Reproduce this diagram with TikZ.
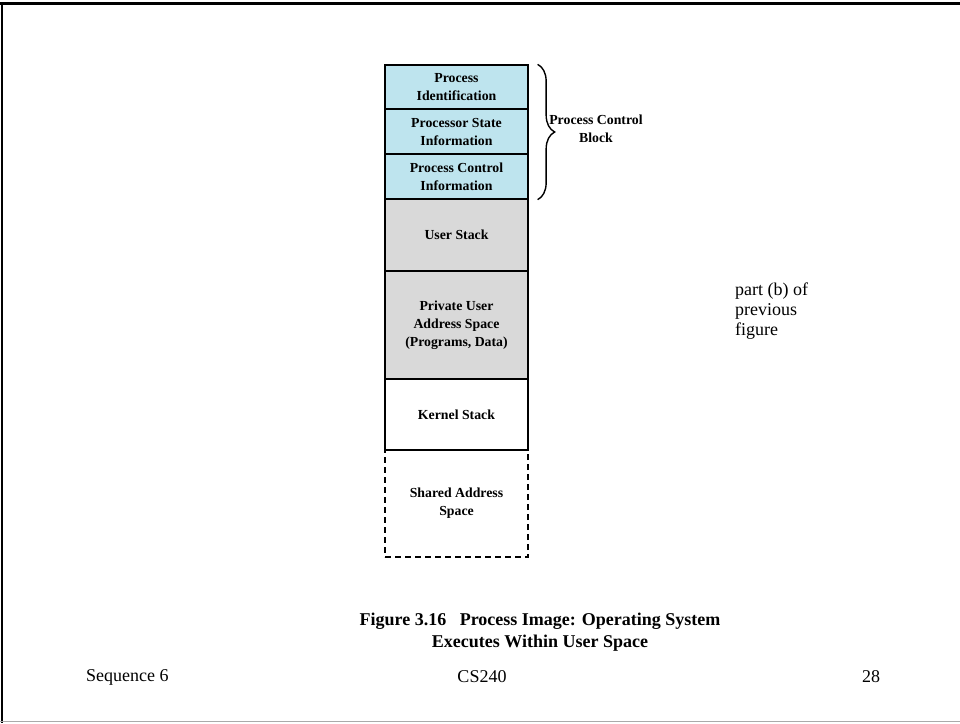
\documentclass[tikz,border=0pt]{standalone}
\usepackage{fontspec}
\setmainfont{Liberation Serif}
\usetikzlibrary{decorations.pathreplacing}
\definecolor{pcbblue}{RGB}{190,228,238}
\definecolor{stackgray}{RGB}{217,217,217}
\definecolor{framegray}{RGB}{170,170,170}
\tikzset{
  seg/.style={draw=black, line width=1.3pt, minimum width=143pt, inner sep=0pt,
    align=center, font=\bfseries\fontsize{13.8}{18}\selectfont},
  pcbseg/.style={seg, fill=pcbblue},
  grayseg/.style={seg, fill=stackgray},
  whiteseg/.style={seg, fill=white},
  dashseg/.style={seg, dash pattern=on 6pt off 4pt},
  bracestyle/.style={draw=black, line width=1.4pt, decorate,
    decoration={brace, amplitude=17pt}},
  plain/.style={font=\fontsize{18}{20}\selectfont, inner sep=0pt}
}
\begin{document}
\begin{tikzpicture}[x=1pt,y=-1pt]
\useasboundingbox (0,0) rectangle (960,723);
% slide frame
\draw[line width=2.5pt] (0,3.5) -- (960,3.5);
\draw[line width=1.5pt] (2,3) -- (2,723);
\draw[framegray, line width=1pt] (0,721.5) -- (960,721.5);

% process image stack
\node[pcbseg, minimum height=44pt] (pid) at (456.5,87) {Process\\Identification};
\node[pcbseg, minimum height=45pt] (psi) at (456.5,131.5) {Processor State\\Information};
\node[pcbseg, minimum height=45pt] (pci) at (456.5,176.5) {Process Control\\Information};
\node[grayseg, minimum height=72pt] (us) at (456.5,235) {User Stack};
\node[grayseg, minimum height=108pt] (pua) at (456.5,325) {Private User\\Address Space\\(Programs, Data)};
\node[whiteseg, minimum height=71pt] (ks) at (456.5,414.5) {Kernel Stack};
\node[dashseg, minimum height=107pt] (sas) at (456.5,503.5) {Shared Address\\Space};

% brace
\draw[bracestyle] ([xshift=9pt]pid.north east) -- ([xshift=9pt]pci.south east);
\node[font=\bfseries\fontsize{13.8}{18}\selectfont, align=center, inner sep=0pt]
  (pcb) at (596,129) {Process Control\\Block};

% side note
\node[plain, align=left, anchor=west] (note) at (735,311) {part (b) of\\previous\\figure};

% caption
\node[font=\bfseries\fontsize{18}{22}\selectfont, align=center, inner sep=0pt]
  (cap) at (540,632) {Figure 3.16\ \ \ Process Image: Operating System\\Executes Within User Space};

% footer
\node[plain, anchor=west] (seq) at (86,677) {Sequence 6};
\node[plain] (course) at (482,677) {CS240};
\node[plain] (page) at (871,677) {28};
\end{tikzpicture}
\end{document}
